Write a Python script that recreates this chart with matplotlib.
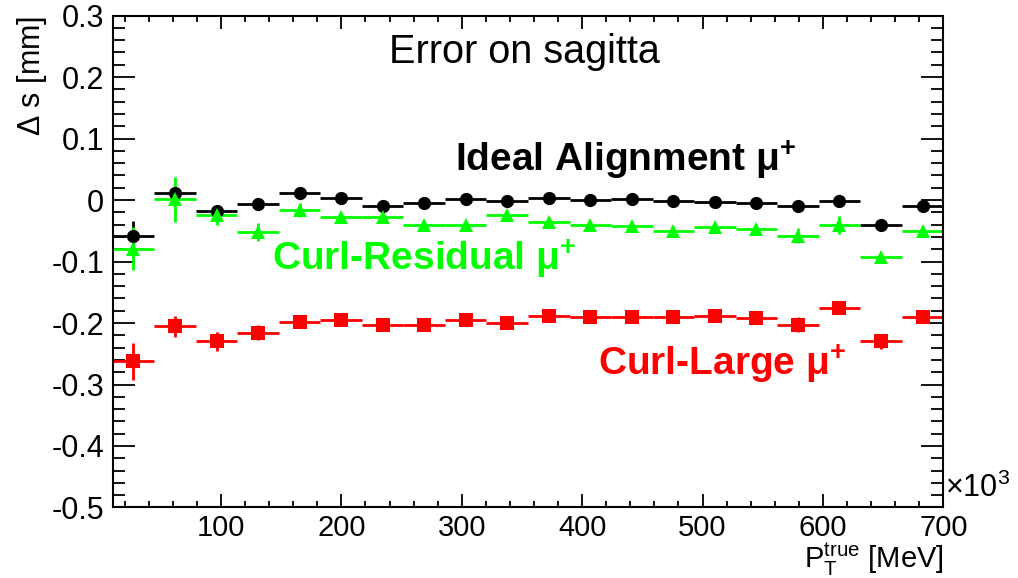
import numpy as np
import matplotlib
matplotlib.use("Agg")
import matplotlib.pyplot as plt
from matplotlib.ticker import MultipleLocator

plt.rcParams["font.family"] = ["Liberation Sans", "DejaVu Sans"]
plt.rcParams["mathtext.fontset"] = "custom"
plt.rcParams["mathtext.rm"] = "Liberation Sans"
plt.rcParams["mathtext.it"] = "Liberation Sans"
plt.rcParams["mathtext.bf"] = "Liberation Sans:bold"

# 20 bins of pT (x10^3 MeV) from 10 to 700
bin_edges = np.linspace(10, 700, 21)
bin_centers = 0.5 * (bin_edges[1:] + bin_edges[:-1])
bin_half = 0.5 * (bin_edges[1] - bin_edges[0])

ideal_ds = [-0.059, 0.011, -0.017, -0.007, 0.011, 0.003, -0.009, -0.004, 0.002, -0.002,
            0.004, 0.000, 0.001, -0.002, -0.003, -0.005, -0.010, -0.001, -0.040, -0.009]
ideal_err = [0.025, 0.012, 0.008, 0.006, 0.006, 0.006, 0.006, 0.006, 0.006, 0.006,
             0.006, 0.006, 0.006, 0.006, 0.006, 0.006, 0.006, 0.006, 0.006, 0.006]

resid_ds = [-0.079, 0.001, -0.025, -0.052, -0.016, -0.027, -0.028, -0.041, -0.041, -0.025,
            -0.036, -0.040, -0.043, -0.050, -0.044, -0.047, -0.058, -0.041, -0.092, -0.051]
resid_err = [0.035, 0.037, 0.015, 0.015, 0.012, 0.006, 0.006, 0.006, 0.006, 0.006,
             0.006, 0.006, 0.006, 0.006, 0.006, 0.006, 0.012, 0.015, 0.006, 0.006]

large_ds = [-0.262, -0.205, -0.230, -0.216, -0.198, -0.195, -0.203, -0.203, -0.195, -0.200,
            -0.188, -0.191, -0.191, -0.191, -0.188, -0.192, -0.203, -0.176, -0.230, -0.191]
large_err = [0.030, 0.017, 0.016, 0.012, 0.006, 0.006, 0.006, 0.006, 0.006, 0.006,
             0.006, 0.006, 0.006, 0.006, 0.006, 0.006, 0.012, 0.008, 0.012, 0.006]

series = [
    (ideal_ds, ideal_err, "black", "o"),
    (resid_ds, resid_err, "#00ff00", "^"),
    (large_ds, large_err, "#ff0000", "s"),
]

fig = plt.figure(figsize=(10.18, 5.78), dpi=100)
ax = fig.add_axes([0.1107, 0.122, 0.8159, 0.851])

for vals, errs, col, mk in series:
    ax.errorbar(bin_centers, vals, xerr=bin_half, yerr=errs, fmt=mk, color=col,
                ecolor=col, elinewidth=2, capsize=0, markersize=9.5, markeredgewidth=0)

ax.set_xlim(10, 700)
ax.set_ylim(-0.5, 0.3)

ax.xaxis.set_major_locator(MultipleLocator(100))
ax.xaxis.set_minor_locator(MultipleLocator(20))
ax.yaxis.set_major_locator(MultipleLocator(0.1))
ax.yaxis.set_minor_locator(MultipleLocator(0.02))
ax.tick_params(which="both", direction="in", top=True, right=True, width=1.3, pad=6)
ax.tick_params(axis="y", which="major", length=16, labelsize=22)
ax.tick_params(axis="y", which="minor", length=8.5)
ax.tick_params(axis="x", which="major", length=9.5, labelsize=21, pad=5)
ax.tick_params(axis="x", which="minor", length=4.5)
ax.set_yticks(np.arange(-0.5, 0.31, 0.1))
ax.set_yticklabels(["-0.5", "-0.4", "-0.3", "-0.2", "-0.1", "0", "0.1", "0.2", "0.3"])
ax.set_xticks(np.arange(100, 701, 100))
ax.set_xticklabels(["100", "200", "300", "400", "500", "600", "700"])
for sp in ax.spines.values():
    sp.set_linewidth(1.5)

ax.set_ylabel(r"$\Delta$ s [mm]", fontsize=22, loc="top", labelpad=2)
ax.set_xlabel(r"P$_{\rm T}^{\rm true}$ [MeV]", fontsize=21, loc="right", labelpad=-1)
ax.text(1.002, 0.008, r"$\times$10$^{3}$", transform=ax.transAxes, fontsize=22,
        ha="left", va="bottom")

ax.text(352, 0.24, "Error on sagitta", fontsize=28.5, ha="center", va="center")
ax.text(294, 0.065, r"Ideal Alignment μ$^{\mathbf{+}}$", fontsize=28,
        fontweight="bold", color="black", ha="left", va="center")
ax.text(142, -0.095, r"Curl-Residual μ$^{\mathbf{+}}$", fontsize=28,
        fontweight="bold", color="#00ff00", ha="left", va="center")
ax.text(413, -0.266, r"Curl-Large μ$^{\mathbf{+}}$", fontsize=28,
        fontweight="bold", color="#ff0000", ha="left", va="center")

fig.savefig("out.png", dpi=100)
